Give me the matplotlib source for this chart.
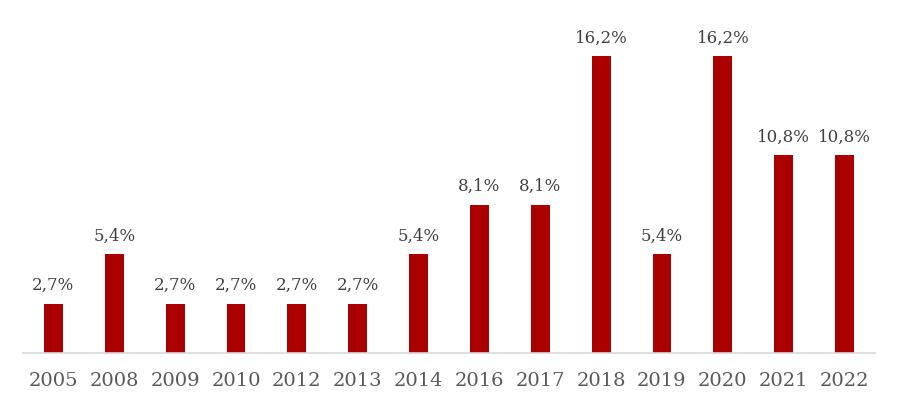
import matplotlib.pyplot as plt

# Datos
years = ['2005', '2008', '2009', '2010', '2012', '2013', '2014',
         '2016', '2017', '2018', '2019', '2020', '2021', '2022']
values = [2.7, 5.4, 2.7, 2.7, 2.7, 2.7, 5.4, 8.1, 8.1, 16.2, 5.4, 16.2, 10.8, 10.8]
labels = ['2,7%', '5,4%', '2,7%', '2,7%', '2,7%', '2,7%', '5,4%',
          '8,1%', '8,1%', '16,2%', '5,4%', '16,2%', '10,8%', '10,8%']

plt.rcParams['font.family'] = 'DejaVu Serif'

fig = plt.figure(figsize=(8.98, 4.09), dpi=100)
ax = fig.add_axes([23 / 898, 56 / 409, 852 / 898, 330 / 409])

x = range(len(years))
bars = ax.bar(x, values, width=0.31, color='#AA0000')

for b, lab in zip(bars, labels):
    ax.annotate(lab, (b.get_x() + b.get_width() / 2, b.get_height()),
                xytext=(0, 9.5), textcoords='offset points',
                ha='center', va='baseline', fontsize=12, color='#404040')

ax.set_xlim(-0.5, len(years) - 0.5)
ax.set_ylim(0, 18)
ax.set_xticks(list(x))
ax.set_xticklabels(years, fontsize=14, color='#595959')
ax.tick_params(axis='x', length=0, pad=14)
ax.set_yticks([])

for s in ['top', 'right', 'left']:
    ax.spines[s].set_visible(False)
ax.spines['bottom'].set_color('#D9D9D9')
ax.spines['bottom'].set_linewidth(1.2)

fig.savefig('out.png', dpi=100)
